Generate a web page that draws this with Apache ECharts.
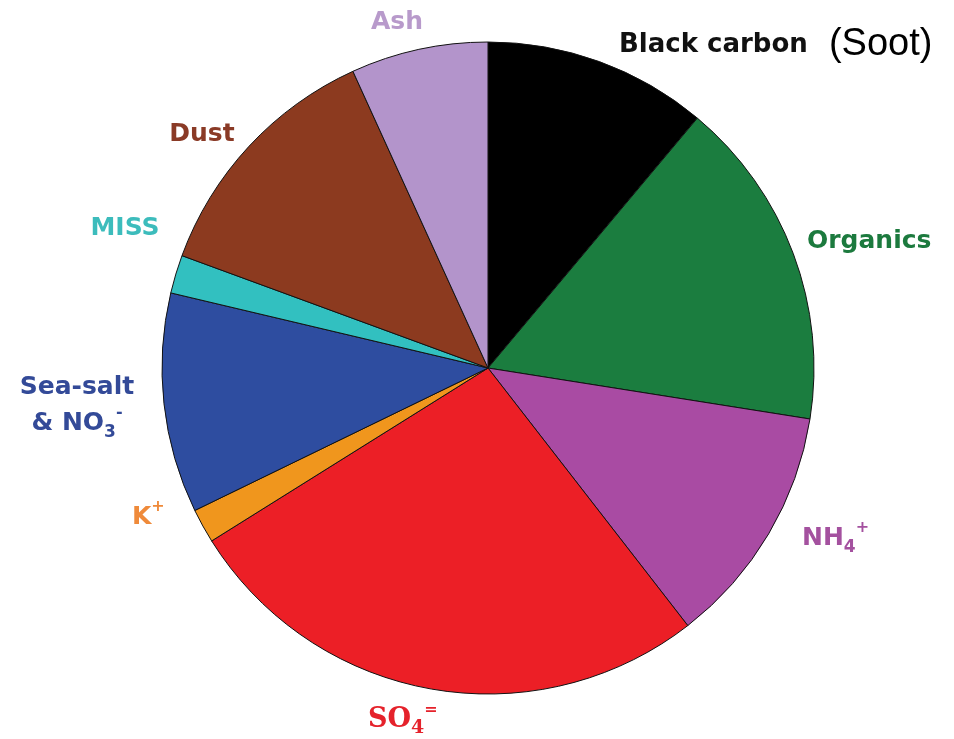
<!DOCTYPE html>
<html>
<head>
<meta charset="utf-8">
<script src="https://cdn.jsdelivr.net/npm/echarts@6/dist/echarts.min.js"></script>
<style>
  html, body { margin: 0; padding: 0; background: #fff; }
  #main { width: 954px; height: 739px; }
</style>
</head>
<body>
<div id="main"></div>
<script>
var myChart = echarts.init(document.getElementById('main'));

// aerosol components, clockwise from 12 o'clock
var names = ['Black carbon', 'Organics', 'NH4+', 'SO4=', 'K+', 'Sea-salt & NO3-', 'MISS', 'Dust', 'Ash'];
var shares = [11.1, 16.4, 12.0, 26.6, 1.7, 10.9, 1.9, 12.6, 6.8];
var colors = ['#000000', '#1b7d3f', '#a94ba3', '#ec1f26', '#f0961d', '#2e4da0', '#32c0c0', '#8c3a1f', '#b394cb'];
var textColors = ['#111111', '#1c7a3e', '#a4519f', '#e5222b', '#ef8a3a', '#334a98', '#3cbcbc', '#8a3a26', '#b89acb'];
var labelText = [
  '{b|Black carbon}{n|  (Soot)}',
  'Organics',
  'NH{sub|4}{sup|+}',
  '{serif|SO}{serifSub|4}{sup|=}',
  'K{sup|+}',
  'Sea-salt\n& NO{sub|3}{sup|-}',
  'MISS',
  'Dust',
  'Ash'
];
// where each label sits (text anchor, px)
var labelPos = [
  [619, 45, 'left'], [807, 241, 'left'], [802, 538, 'left'], [368, 720, 'left'],
  [132, 517, 'left'], [77, 405, 'center'], [125, 228, 'center'], [202, 134, 'center'], [397, 22, 'center']
];

var data = names.map(function (n, i) {
  return {
    name: n,
    value: shares[i],
    itemStyle: { color: colors[i] },
    label: { color: textColors[i], formatter: labelText[i] }
  };
});

var baseFont = 'DejaVu Sans';
var option = {
  series: [{
    type: 'pie',
    center: [488, 368],
    radius: [0, 326],
    startAngle: 90,
    animation: false,
    silent: true,
    itemStyle: { borderColor: '#111', borderWidth: 1 },
    labelLine: { show: false },
    label: {
      show: true,
      position: 'outside',
      width: 340,
      overflow: 'none',
      fontFamily: baseFont,
      fontWeight: 'bold',
      fontSize: 25,
      lineHeight: 36,
      rich: {
        b: { fontFamily: baseFont, fontWeight: 'bold', fontSize: 26, color: '#111' },
        n: { fontFamily: 'Liberation Sans', fontWeight: 'normal', fontSize: 38, color: '#000' },
        sub: { fontFamily: baseFont, fontWeight: 'bold', fontSize: 17, verticalAlign: 'bottom', padding: [12, 0, 0, 0] },
        sup: { fontFamily: baseFont, fontWeight: 'bold', fontSize: 16, verticalAlign: 'top', padding: [0, 0, 14, 0] },
        serif: { fontFamily: 'DejaVu Serif', fontWeight: 'bold', fontSize: 27 },
        serifSub: { fontFamily: 'DejaVu Serif', fontWeight: 'bold', fontSize: 19, verticalAlign: 'bottom', padding: [12, 0, 0, 0] }
      }
    },
    labelLayout: function (params) {
      var p = labelPos[params.dataIndex];
      return { x: p[0], y: p[1], align: p[2], verticalAlign: 'middle' };
    },
    data: data
  }]
};

myChart.setOption(option);
</script>
</body>
</html>
